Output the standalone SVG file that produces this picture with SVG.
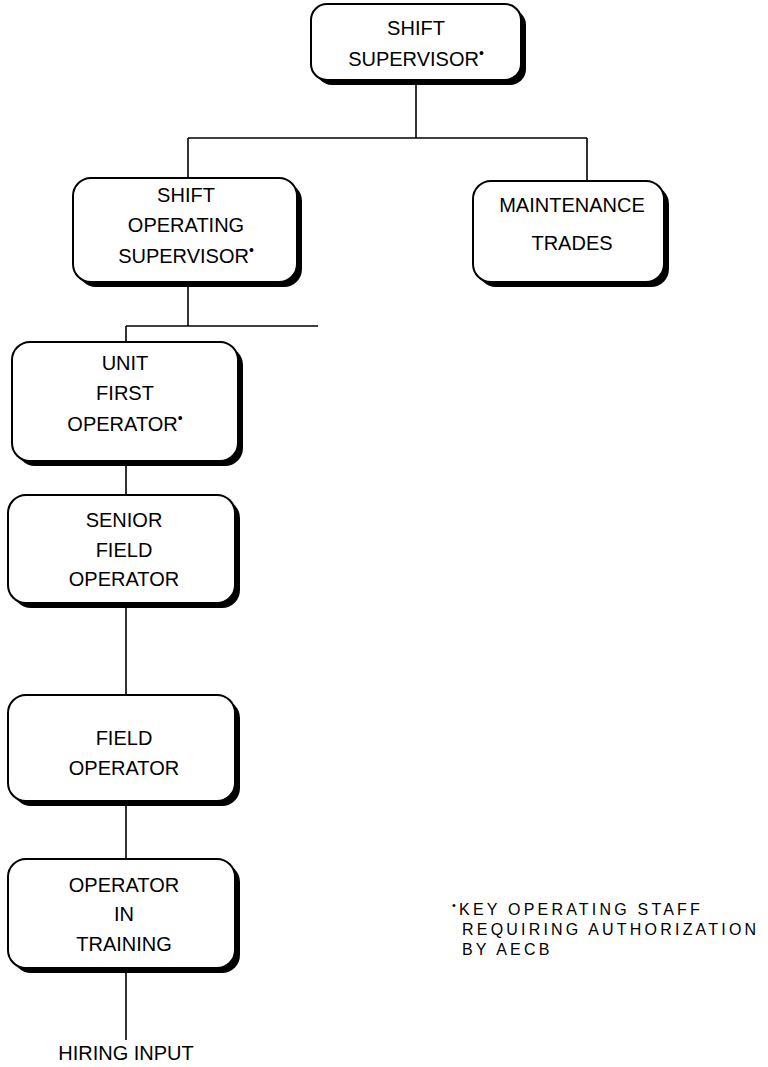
<svg xmlns="http://www.w3.org/2000/svg" width="768" height="1067" viewBox="0 0 768 1067">
  <style>
    .shadow { fill: #000; }
    .box { fill: #fff; stroke: #000; stroke-width: 2; }
    .lbl { font-family: "Liberation Sans", Arial, sans-serif; font-size: 20px; fill: #000; text-anchor: middle; }
    .dot { font-size: 14px; }
    .wire { fill: none; stroke: #000; stroke-width: 1.6; }
    .note { font-family: "Liberation Sans", Arial, sans-serif; font-size: 16px; letter-spacing: 3.2px; fill: #000; }
  </style>

  <!-- connectors -->
  <g id="connectors" class="wire">
    <path d="M416 84 V138"/>
    <path d="M188 138 H587"/>
    <path d="M188 138 V178"/>
    <path d="M587 138 V181"/>
    <path d="M188 287 V326"/>
    <path d="M126 326 H318"/>
    <path d="M126 326 V342"/>
    <path d="M126 466 V495"/>
    <path d="M126 608 V695"/>
    <path d="M126 806 V859"/>
    <path d="M126 973 V1040"/>
  </g>

  <g id="shift-supervisor">
    <rect class="shadow" x="316" y="9" width="210" height="76" rx="16"/>
    <rect class="box" x="311" y="4" width="210" height="76" rx="16"/>
    <text class="lbl" x="416" y="35">SHIFT</text>
    <text class="lbl" x="416" y="66">SUPERVISOR<tspan class="dot" dy="-8">•</tspan></text>
  </g>

  <g id="shift-operating-supervisor">
    <rect class="shadow" x="78" y="183" width="224" height="104" rx="18"/>
    <rect class="box" x="73" y="178" width="224" height="104" rx="18"/>
    <text class="lbl" x="186" y="202">SHIFT</text>
    <text class="lbl" x="186" y="232">OPERATING</text>
    <text class="lbl" x="186" y="263">SUPERVISOR<tspan class="dot" dy="-8">•</tspan></text>
  </g>

  <g id="maintenance-trades">
    <rect class="shadow" x="478" y="186" width="191" height="101" rx="18"/>
    <rect class="box" x="473" y="181" width="191" height="101" rx="18"/>
    <text class="lbl" x="572" y="212">MAINTENANCE</text>
    <text class="lbl" x="572" y="250">TRADES</text>
  </g>

  <g id="unit-first-operator">
    <rect class="shadow" x="17" y="347" width="226" height="119" rx="18"/>
    <rect class="box" x="12" y="342" width="226" height="119" rx="18"/>
    <text class="lbl" x="125" y="370">UNIT</text>
    <text class="lbl" x="125" y="400">FIRST</text>
    <text class="lbl" x="125" y="431">OPERATOR<tspan class="dot" dy="-8">•</tspan></text>
  </g>

  <g id="senior-field-operator">
    <rect class="shadow" x="13" y="500" width="227" height="108" rx="18"/>
    <rect class="box" x="8" y="495" width="227" height="108" rx="18"/>
    <text class="lbl" x="124" y="527">SENIOR</text>
    <text class="lbl" x="124" y="557">FIELD</text>
    <text class="lbl" x="124" y="586">OPERATOR</text>
  </g>

  <g id="field-operator">
    <rect class="shadow" x="13" y="700" width="227" height="106" rx="18"/>
    <rect class="box" x="8" y="695" width="227" height="106" rx="18"/>
    <text class="lbl" x="124" y="745">FIELD</text>
    <text class="lbl" x="124" y="775">OPERATOR</text>
  </g>

  <g id="operator-in-training">
    <rect class="shadow" x="13" y="864" width="227" height="109" rx="18"/>
    <rect class="box" x="8" y="859" width="227" height="109" rx="18"/>
    <text class="lbl" x="124" y="892">OPERATOR</text>
    <text class="lbl" x="124" y="921">IN</text>
    <text class="lbl" x="124" y="951">TRAINING</text>
  </g>

  <g id="hiring-input">
    <text class="lbl" x="126" y="1060" font-size="21">HIRING INPUT</text>
  </g>

  <g id="footnote">
    <text class="note" x="452" y="915"><tspan font-size="11" dy="-6">•</tspan><tspan dy="6">KEY OPERATING STAFF</tspan></text>
    <text class="note" x="462" y="935">REQUIRING AUTHORIZATION</text>
    <text class="note" x="462" y="955">BY AECB</text>
  </g>
</svg>
